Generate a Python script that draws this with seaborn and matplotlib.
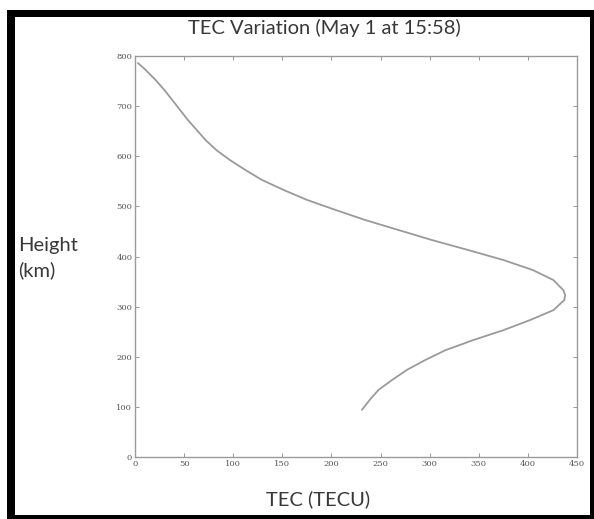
import matplotlib
matplotlib.use("Agg")
import matplotlib.pyplot as plt
from matplotlib.patches import Rectangle
import seaborn as sns
import pandas as pd

# Data (profile from lower end, through peak, to top)
tec = [231, 239, 248, 262, 277, 295, 316, 344, 375, 402, 426, 437, 438,
       436, 426, 405, 375, 339, 302, 268, 234, 204, 175, 151, 129, 112,
       97, 83, 72, 63, 54, 46, 38, 30, 21, 11, 3]
height = [94, 114, 134, 154, 174, 193, 213, 233, 253, 273, 293, 313, 323,
          333, 353, 373, 393, 413, 433, 453, 473, 493, 513, 533, 553, 573,
          592, 612, 632, 652, 672, 692, 712, 732, 752, 772, 786]
x_ticks = [0, 50, 100, 150, 200, 250, 300, 350, 400, 450]
y_ticks = [0, 100, 200, 300, 400, 500, 600, 700, 800]

title = "TEC Variation (May 1 at 15:58)"
xlabel = "TEC (TECU)"
ylabel = "Height\n(km)"

sns.set_theme(style="white")
plt.rcParams['font.family'] = ['Lato', 'DejaVu Sans']

W, H = 594, 519
fig = plt.figure(figsize=(W / 100, H / 100), dpi=100)
fig.patch.set_facecolor("white")

ax = fig.add_axes([135 / W, (H - 457) / H, 442 / W, (457 - 56) / H])
df = pd.DataFrame({"TEC": tec, "Height": height})
sns.lineplot(data=df, x="TEC", y="Height", sort=False, estimator=None,
             color="#9a9a9a", linewidth=1.3, ax=ax)

ax.set_xlim(0, 450)
ax.set_ylim(0, 800)
ax.set_xticks(x_ticks)
ax.set_yticks(y_ticks)
ax.set_xlabel("")
ax.set_ylabel("")
ax.tick_params(direction="in", length=3, width=0.6, colors="#888888",
               labelcolor="#555555", labelsize=6, top=True, right=True,
               bottom=True, left=True, pad=2)
for lab in ax.get_xticklabels() + ax.get_yticklabels():
    lab.set_family(['DejaVu Serif'])
for s in ax.spines.values():
    s.set_color("#9a9a9a")
    s.set_linewidth(1.0)

fig.text(324 / W, 1 - 28 / H, title, ha="center", va="center",
         fontsize=14.5, color="#383838")
fig.text(318 / W, 1 - 499 / H, xlabel, ha="center", va="center",
         fontsize=14.5, color="#383838")
fig.text(18 / W, 1 - 258 / H, ylabel, ha="left", va="center",
         fontsize=14.5, color="#383838", linespacing=1.45)

# black frame around the picture
def frame(x0, y0, x1, y1):
    fig.add_artist(Rectangle((x0 / W, 1 - y1 / H), (x1 - x0) / W, (y1 - y0) / H,
                             transform=fig.transFigure, facecolor="black",
                             edgecolor="none"))

frame(7, 10, 594, 17)     # top
frame(7, 10, 15, 519)     # left
frame(590, 10, 594, 519)  # right
frame(7, 515, 594, 519)   # bottom

fig.savefig("out.png", dpi=100)
